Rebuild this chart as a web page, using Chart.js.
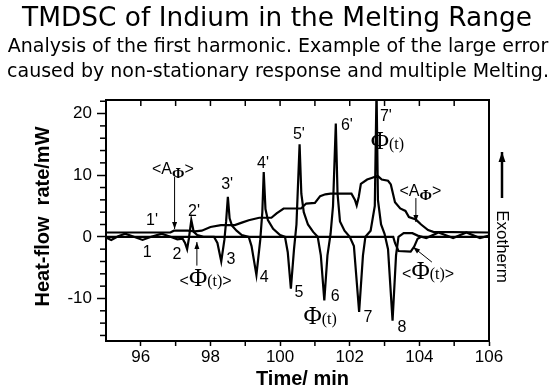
<!DOCTYPE html>
<html><head><meta charset="utf-8">
<script src="https://cdn.jsdelivr.net/npm/chart.js@4/dist/chart.umd.min.js"></script>
<style>html,body{margin:0;padding:0;background:#fff}</style>
</head><body>
<canvas id="c" width="556" height="389"></canvas>
<script>
// ---- data ----
const phiTime  = [95.00,95.15,95.35,95.55,95.80,96.05,96.30,96.60,96.85,97.05,97.20,97.27,97.33,97.38,97.45,97.52,97.62,97.80,98.10,98.20,98.31,98.40,98.45,98.50,98.55,98.62,98.75,98.90,99.10,99.18,99.32,99.43,99.49,99.53,99.58,99.65,99.80,100.00,100.14,100.22,100.31,100.40,100.47,100.56,100.61,100.68,100.80,100.95,101.08,101.17,101.27,101.36,101.45,101.52,101.60,101.65,101.72,101.85,102.00,102.12,102.27,102.38,102.45,102.60,102.72,102.77,102.81,102.90,103.00,103.10,103.23,103.33,103.40,103.55,103.80,103.95,104.20,104.55,104.97,105.35,105.74,106.00];
const phiValue = [-0.1,-0.5,0.1,0.5,0.0,-0.5,0.0,0.5,0.0,-0.4,-0.3,-1.0,-2.0,-0.3,2.7,0.8,0.3,0.0,0.0,-1.0,-4.0,-0.5,2.5,6.5,3.0,1.8,1.0,0.3,0.0,-1.5,-6.2,-0.5,4.0,10.5,4.5,2.7,1.3,0.3,0.0,-2.5,-8.4,-2.0,2.0,15.0,7.0,4.0,2.0,0.8,0.0,-3.0,-10.3,-3.0,0.5,5.0,18.4,7.0,2.5,1.0,0.0,-1.5,-12.2,-3.0,0.0,1.0,5.0,24.0,6.0,2.0,0.5,-2.0,-13.6,-3.0,0.0,0.6,0.6,0.2,-0.2,0.7,-0.2,0.7,-0.2,0.2];

const ampTime  = [95.00,96.85,96.95,97.35,97.55,97.75,98.00,98.30,98.70,98.90,99.10,99.40,99.75,99.90,100.10,100.60,100.75,101.00,101.15,101.30,101.45,102.05,102.15,102.20,102.26,102.32,102.50,102.65,102.80,102.92,103.10,103.18,103.30,103.45,103.60,103.70,103.90,104.05,104.25,104.40,106.00];
const ampValue = [0.7,0.7,1.0,1.0,0.9,1.0,1.6,1.9,1.9,2.3,2.7,3.1,3.1,3.8,4.6,4.6,5.4,5.5,6.6,6.9,7.0,7.0,6.0,5.1,6.5,8.6,9.3,9.6,9.9,9.3,9.1,8.5,5.6,4.6,4.2,3.2,2.8,2.0,1.1,0.8,0.7];

const avgTime  = [95.00,103.25,103.30,103.40,103.75,103.85,103.95,104.05,106.00];
const avgValue = [0.0,0.0,-1.0,-2.3,-2.4,-1.6,-0.3,0.0,0.0];

const xTickLabels = [96,98,100,102,104,106];
const yTickLabels = [-10,0,10,20];
const xMinorTicks = [95,96,97,98,99,100,101,102,103,104,105,106];
const yMinorTicks = [-16,-14,-12,-10,-8,-6,-4,-2,0,2,4,6,8,10,12,14,16,18,20,22];

const titleText = "TMDSC of Indium in the Melting Range";
const subtitleLines = ["Analysis of the first harmonic. Example of the large error",
                       "caused by non-stationary response and multiple Melting."];
const xTitle = "Time/ min";
const yTitle = "Heat-flow  rate/mW";
const sideText = "Exotherm";

// annotation labels (anchor in data units)
const simpleNotes = [
  ["1'",96.32,2.56],["2'",97.53,4.02],["3'",98.48,8.40],["4'",99.51,11.81],["5'",100.54,16.52],
  ["6'",101.92,17.98],["7'",103.04,19.44],
  ["1",96.18,-2.63],["2",97.04,-2.95],["3",98.59,-3.76],["4",99.54,-6.68],["5",100.54,-9.12],
  ["6",101.58,-9.77],["7",102.52,-13.18],["8",103.50,-14.80]
];
const phiNotes = [[103.08,15.54],[101.15,-12.85]];        // "Φ(t)"
const avgPhiNotes = [[97.86,-6.68],[104.25,-5.55]];      // "<Φ(t)>"
const ampNotes = [[96.92,11.16],[104.03,7.59]];          // "<AΦ>"
const arrows = [ // from (t,v) to (t,v), head at end
  [96.97,9.70,96.97,1.27],[103.90,6.29,103.90,2.40],
  [97.61,-4.67,97.61,-0.84],[104.36,-4.10,103.82,-1.66]
];

const pts = (xs, ys) => xs.map((x,i)=>({x:x,y:ys[i]}));

function drawParts(ctx, parts, cx, baseY){
  let w = 0;
  parts.forEach(p => { ctx.font = p[1]; p.w = ctx.measureText(p[0]).width; w += p.w; });
  let x = cx - w/2;
  ctx.textAlign = 'left'; ctx.textBaseline = 'alphabetic';
  parts.forEach(p => { ctx.font = p[1]; ctx.fillText(p[0], x, baseY + (p[2]||0)); x += p.w; });
}
function arrow(ctx, x1,y1,x2,y2, hl, hw){
  ctx.beginPath(); ctx.moveTo(x1,y1); ctx.lineTo(x2,y2); ctx.stroke();
  const a = Math.atan2(y2-y1, x2-x1);
  ctx.beginPath();
  ctx.moveTo(x2,y2);
  ctx.lineTo(x2 - hl*Math.cos(a) + hw*Math.sin(a), y2 - hl*Math.sin(a) - hw*Math.cos(a));
  ctx.lineTo(x2 - hl*Math.cos(a) - hw*Math.sin(a), y2 - hl*Math.sin(a) + hw*Math.cos(a));
  ctx.closePath(); ctx.fill();
}

const SANS = '"Liberation Sans", Arial, sans-serif';
const SERIF = '"Liberation Serif", "Times New Roman", serif';

const decor = {
  id: 'decor',
  beforeDraw(chart){
    const ctx = chart.ctx; ctx.save(); ctx.fillStyle='#fff'; ctx.fillRect(0,0,chart.width,chart.height); ctx.restore();
  },
  afterDraw(chart){
    const ctx = chart.ctx, a = chart.chartArea, xs = chart.scales.x, ys = chart.scales.y;
    ctx.save();
    ctx.strokeStyle = '#000'; ctx.fillStyle = '#000';
    // frame top & right
    ctx.lineWidth = 2;
    ctx.beginPath(); ctx.moveTo(a.left, a.top); ctx.lineTo(a.right, a.top); ctx.lineTo(a.right, a.bottom); ctx.stroke();
    // minor ticks
    ctx.lineWidth = 1.5;
    yMinorTicks.forEach(v => { if (yTickLabels.includes(v)) return; const p = ys.getPixelForValue(v);
      ctx.beginPath(); ctx.moveTo(a.left-6, p); ctx.lineTo(a.left, p); ctx.stroke(); });
    xMinorTicks.forEach(v => { const p = xs.getPixelForValue(v);
      if (!xTickLabels.includes(v) && v > 95) { ctx.beginPath(); ctx.moveTo(p, a.bottom); ctx.lineTo(p, a.bottom+5); ctx.stroke(); }
      if (v > 95 && v < 106) { ctx.beginPath(); ctx.moveTo(p, a.top); ctx.lineTo(p, a.top+6); ctx.stroke(); }
    });
    // titles
    ctx.textAlign = 'center'; ctx.textBaseline = 'middle';
    ctx.font = '27px "DejaVu Sans", sans-serif';
    ctx.fillText(titleText, 277, 19, 510);
    ctx.font = '19px "DejaVu Sans", sans-serif';
    ctx.fillText(subtitleLines[0], 278, 47, 550);
    ctx.fillText(subtitleLines[1], 278, 72, 550);
    ctx.font = 'bold 20px ' + SANS;
    ctx.fillText(xTitle, (a.left+a.right)/2 + 5, 379);
    ctx.save(); ctx.translate(43, (a.top+a.bottom)/2 - 4); ctx.rotate(-Math.PI/2);
    ctx.fillText(yTitle, 0, 0, 184); ctx.restore();
    // Exotherm
    ctx.save(); ctx.translate(a.right+13, (a.top+a.bottom)/2 + 26); ctx.rotate(Math.PI/2);
    ctx.font = '17px ' + SANS; ctx.fillText(sideText, 0, 0); ctx.restore();
    ctx.lineWidth = 2.5;
    arrow(ctx, a.right+13, a.top+98, a.right+13, a.top+52, 10, 3.5);
    // simple notes
    ctx.font = '16px ' + SANS; ctx.textAlign='center'; ctx.textBaseline='middle';
    simpleNotes.forEach(n => ctx.fillText(n[0], xs.getPixelForValue(n[1]), ys.getPixelForValue(n[2])));
    phiNotes.forEach(n => drawParts(ctx, [["Φ",'25px '+SERIF],["(t)",'16px '+SERIF]], xs.getPixelForValue(n[0]), ys.getPixelForValue(n[1])+8));
    avgPhiNotes.forEach(n => drawParts(ctx, [["<",'16px '+SANS],["Φ",'25px '+SERIF],["(t)",'16px '+SERIF],[">",'16px '+SANS]], xs.getPixelForValue(n[0]), ys.getPixelForValue(n[1])+8));
    ampNotes.forEach(n => drawParts(ctx, [["<A",'16px '+SANS],["Φ",'bold 15px '+SERIF,4],[">",'16px '+SANS]], xs.getPixelForValue(n[0]), ys.getPixelForValue(n[1])+6));
    ctx.lineWidth = 1;
    arrows.forEach(r => arrow(ctx, xs.getPixelForValue(r[0]), ys.getPixelForValue(r[1]), xs.getPixelForValue(r[2]), ys.getPixelForValue(r[3]), 7, 2.5));
    ctx.restore();
  }
};

const lineStyle = {borderColor:'#000', borderWidth:2.2, pointRadius:0, tension:0, fill:false};

new Chart(document.getElementById('c'), {
  type: 'line',
  data: { datasets: [
    Object.assign({label:'Φ(t)', data: pts(phiTime, phiValue)}, lineStyle),
    Object.assign({label:'<AΦ>', data: pts(ampTime, ampValue)}, lineStyle),
    Object.assign({label:'<Φ(t)>', data: pts(avgTime, avgValue)}, lineStyle)
  ]},
  options: {
    responsive:false, animation:false, devicePixelRatio:1,
    layout:{padding:{left:0, top:100, right:67, bottom:0}},
    plugins:{legend:{display:false}, title:{display:false}, tooltip:{enabled:false}},
    scales:{
      x:{type:'linear', min:95, max:106,
         afterBuildTicks: s => { s.ticks = xTickLabels.map(v=>({value:v})); },
         afterFit: s => { s.height = 48; },
         ticks:{color:'#000', font:{family:SANS, size:17}, padding:1, maxRotation:0, autoSkip:false,
                callback: v => String(v)},
         grid:{drawOnChartArea:false, tickLength:5, tickColor:'#000', tickWidth:1.5},
         border:{display:true, color:'#000', width:2}},
      y:{type:'linear', min:-16.9, max:22.2,
         afterBuildTicks: s => { s.ticks = yTickLabels.map(v=>({value:v})); },
         afterFit: s => { s.width = 106; },
         ticks:{color:'#000', font:{family:SANS, size:17}, padding:5, autoSkip:false,
                callback: v => String(v)},
         grid:{drawOnChartArea:false, tickLength:9, tickColor:'#000', tickWidth:1.5},
         border:{display:true, color:'#000', width:2}}
    }
  },
  plugins:[decor]
});
</script>
</body></html>
